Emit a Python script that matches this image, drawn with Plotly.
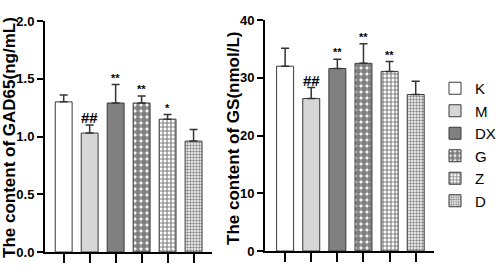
import plotly.graph_objects as go

groups = ["K", "M", "DX", "G", "Z", "D"]
gad65 = [1.30, 1.03, 1.29, 1.29, 1.15, 0.96]
gad65_err = [0.06, 0.07, 0.16, 0.06, 0.04, 0.10]
gad65_sig = ["", "##", "**", "**", "*", ""]
gs = [32.0, 26.4, 31.6, 32.5, 31.1, 27.1]
gs_err = [3.1, 1.9, 1.6, 3.4, 1.7, 2.3]
gs_sig = ["", "##", "**", "**", "**", ""]

fills = ["white", "#d6d6d6", "#808080", "white", "white", "white"]
pat_shapes = ["", "", "", ".", "+", "."]
pat_fg = ["black", "black", "black", "black", "black", "#111111"]
pat_size = [6, 6, 6, 6, 4, 3]
pat_sol = [0.3, 0.3, 0.3, 0.75, 0.5, 0.5]

W, H = 498, 274
def px(x):
    return x / W
def py(y):
    return (H - y) / H

fig = go.Figure()
for i, g in enumerate(groups):
    common = dict(
        marker=dict(color=fills[i], line=dict(color="#3a3a3a", width=1),
                    pattern=dict(shape=pat_shapes[i], fgcolor=pat_fg[i], bgcolor=fills[i],
                                 size=pat_size[i], solidity=pat_sol[i], fillmode="overlay")),
        width=0.65, name=g, legendgroup=g,
    )
    fig.add_trace(go.Bar(x=[i], y=[gad65[i]], xaxis="x", yaxis="y", showlegend=True,
                         error_y=dict(type="data", array=[gad65_err[i]], arrayminus=[0], symmetric=False,
                                      color="#333333", thickness=1.5, width=4), **common))
    fig.add_trace(go.Bar(x=[i], y=[gs[i]], xaxis="x2", yaxis="y2", showlegend=False,
                         error_y=dict(type="data", array=[gs_err[i]], arrayminus=[0], symmetric=False,
                                      color="#333333", thickness=1.5, width=4), **common))

annotations = []
for i in range(len(groups)):
    for sig, val, err, xa, ya in [(gad65_sig[i], gad65[i], gad65_err[i], "x", "y"),
                                  (gs_sig[i], gs[i], gs_err[i], "x2", "y2")]:
        if sig:
            big = sig.startswith("#")
            annotations.append(dict(x=i, y=val + err, xref=xa, yref=ya, text=sig, showarrow=False,
                                    yanchor="bottom", yshift=-3 if big else -1,
                                    font=dict(family="Arial", size=15 if big else 11, color="black",
                                              weight="bold")))

annotations.append(dict(x=px(10), y=py(138), xref="paper", yref="paper", textangle=-90,
                        text="The content of GAD65(ng/mL)", showarrow=False,
                        xanchor="center", yanchor="middle",
                        font=dict(family="Arial", size=17, color="black", weight="bold")))
annotations.append(dict(x=px(233), y=py(139), xref="paper", yref="paper", textangle=-90,
                        text="The content of GS(nmol/L)", showarrow=False,
                        xanchor="center", yanchor="middle",
                        font=dict(family="Arial", size=17, color="black", weight="bold")))

xaxis_common = dict(showline=True, linecolor="black", linewidth=2, ticks="outside", ticklen=9,
                    tickwidth=1.5, tickcolor="black", tickvals=list(range(6)),
                    ticktext=[""] * 6, showgrid=False, zeroline=False, fixedrange=True)
yaxis_common = dict(showline=True, linecolor="black", linewidth=2, ticks="outside", ticklen=6,
                    tickwidth=2, tickcolor="black", showgrid=False, zeroline=False,
                    tickfont=dict(family="Arial", size=13, color="black", weight="bold"))

fig.update_layout(
    width=W, height=H, margin=dict(l=0, r=0, t=0, b=0, autoexpand=False),
    paper_bgcolor="white", plot_bgcolor="white", barmode="overlay",
    xaxis=dict(domain=[px(45), px(212)], range=[-0.72, 5.71], anchor="y", **xaxis_common),
    yaxis=dict(domain=[py(252), py(21)], range=[0, 2.0], tickvals=[0, 0.5, 1.0, 1.5, 2.0],
               ticktext=["0.0", "0.5", "1.0", "1.5", "2.0"], anchor="x", **yaxis_common),
    xaxis2=dict(domain=[px(265), px(434)], range=[-0.77, 5.7], anchor="y2", **xaxis_common),
    yaxis2=dict(domain=[py(251), py(20)], range=[0, 40], tickvals=[0, 10, 20, 30, 40],
                anchor="x2", **yaxis_common),
    legend=dict(x=px(435), y=py(72), xanchor="left", yanchor="top", bgcolor="rgba(0,0,0,0)",
                font=dict(family="Liberation Sans, Arial", size=15, color="black"),
                itemwidth=30, tracegroupgap=0, borderwidth=0),
    annotations=annotations, showlegend=True,
)

fig.write_html("out.html", config={"displayModeBar": False},
               post_script="document.body.style.margin='0px';")
